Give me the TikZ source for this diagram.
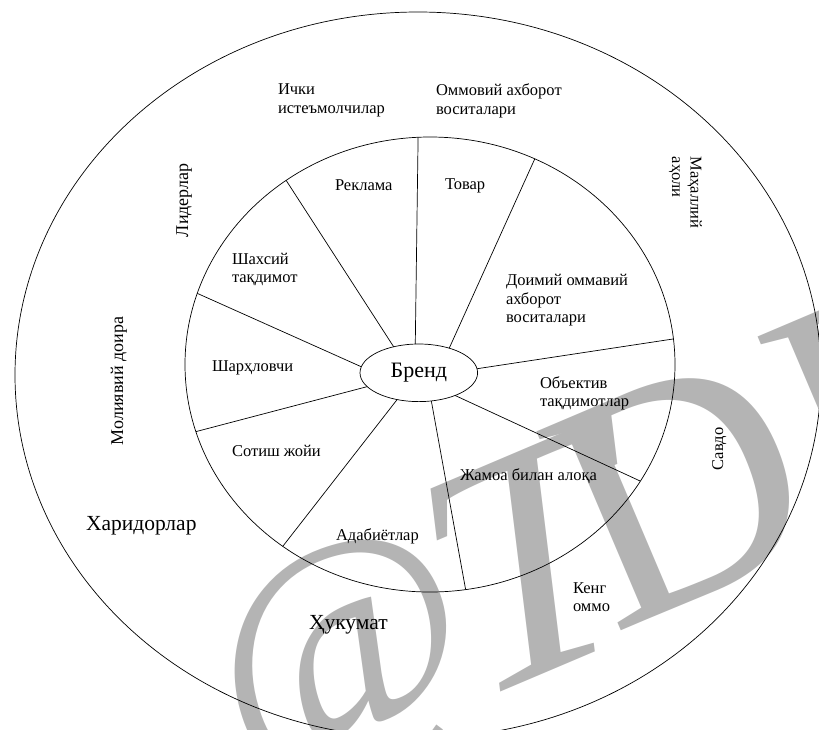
\documentclass[tikz,border=0pt]{standalone}
\usepackage{fontspec}
\setmainfont{Liberation Serif}
\usetikzlibrary{shapes.geometric}
\definecolor{wm}{RGB}{180,180,180}
\begin{document}
\begin{tikzpicture}[x=1pt,y=-1pt,line width=0.7pt,
  lbl/.style={font=\fontsize{16.5}{18.5}\selectfont,inner sep=0,outer sep=0,align=left},
  midlbl/.style={font=\fontsize{18}{20}\selectfont,inner sep=0,outer sep=0},
  biglbl/.style={font=\fontsize{21.5}{24}\selectfont,inner sep=0,outer sep=0},
  ring/.style={draw,ellipse,inner sep=0,outer sep=0},
  wmark/.style={text=wm,inner sep=0,outer sep=0}]
\useasboundingbox (0,0) rectangle (819,729);
\clip (0,0) rectangle (819,729);
% watermark
\node[wmark,font=\fontsize{280}{280}\selectfont,rotate=20,anchor=center] (wmat) at (346,668) {@};
\node[wmark,font=\fontsize{340}{340}\selectfont,cm={0.921,0.391,-0.122,0.993,(0,0)},anchor=base] (wmt) at (548,672) {T};
\node[wmark,font=\fontsize{330}{330}\selectfont,rotate=23,anchor=base west] (wmd) at (612,634) {DIU};
% rings
\node[ring,minimum width=806pt,minimum height=726pt] (outer) at (418,375) {};
\node[ring,minimum width=490pt,minimum height=455pt] (inner) at (430,364.5) {};
\node[ring,minimum width=117.6pt,minimum height=57.6pt,font=\fontsize{22}{24}\selectfont] (brand) at (418.8,372.8) {Бренд};
% spokes
\draw (brand.97.2) -- (inner.93.8);
\draw (brand.134.4) -- (inner.128.7);
\draw (brand.39.9) -- (inner.63.0);
\draw (brand.4.4) -- (inner.6.6);
\draw (brand.328.5) -- (inner.331.3);
\draw (brand.294.1) -- (inner.279.2);
\draw (brand.231.7) -- (inner.231.8);
\draw (brand.195.0) -- (inner.196.5);
\draw (brand.174.1) -- (inner.163.3);
% inner labels (multi-line nodes: base = last line)
\node[lbl,anchor=base west] (reklama) at (335,190) {Реклама};
\node[lbl,anchor=base west] (tovar) at (445,189) {Товар};
\node[lbl,anchor=base west] (shaxsiy) at (232,282.7) {Шахсий\\тақдимот};
\node[lbl,anchor=base west] (doimiy) at (506,322.7) {Доимий оммавий\\ахборот\\воситалари};
\node[lbl,anchor=base west] (sharx) at (212,371.7) {Шарҳловчи};
\node[lbl,anchor=base west] (obyektiv) at (540,406.7) {Объектив\\тақдимотлар};
\node[lbl,anchor=base west] (sotish) at (232,456) {Сотиш жойи};
\node[lbl,anchor=base west] (jamoa) at (460,480.7) {Жамоа билан алоқа};
\node[lbl,anchor=base west] (adab) at (336,540) {Адабиётлар};
% outer labels
\node[lbl,anchor=base west] (ichki) at (278,113.3) {Ички\\истеъмолчилар};
\node[lbl,anchor=base west] (ommaviy) at (436,114) {Оммовий ахборот\\воситалари};
\node[midlbl,rotate=90,anchor=base west] (lider) at (188,237) {Лидерлар};
\node[lbl,rotate=-90,anchor=base west] (mahalliy) at (672,156.7) {Маҳаллий\\аҳоли};
\node[midlbl,rotate=90,anchor=base west] (moliya) at (123,445) {Молиявий доира};
\node[lbl,rotate=90,anchor=base west] (savdo) at (723,470) {Савдо};
\node[biglbl,anchor=base west] (xaridor) at (86,530) {Харидорлар};
\node[lbl,anchor=base west] (keng) at (573,611.7) {Кенг\\оммо};
\node[biglbl,anchor=base west] (hukumat) at (309,629) {Ҳукумат};
\end{tikzpicture}
\end{document}
